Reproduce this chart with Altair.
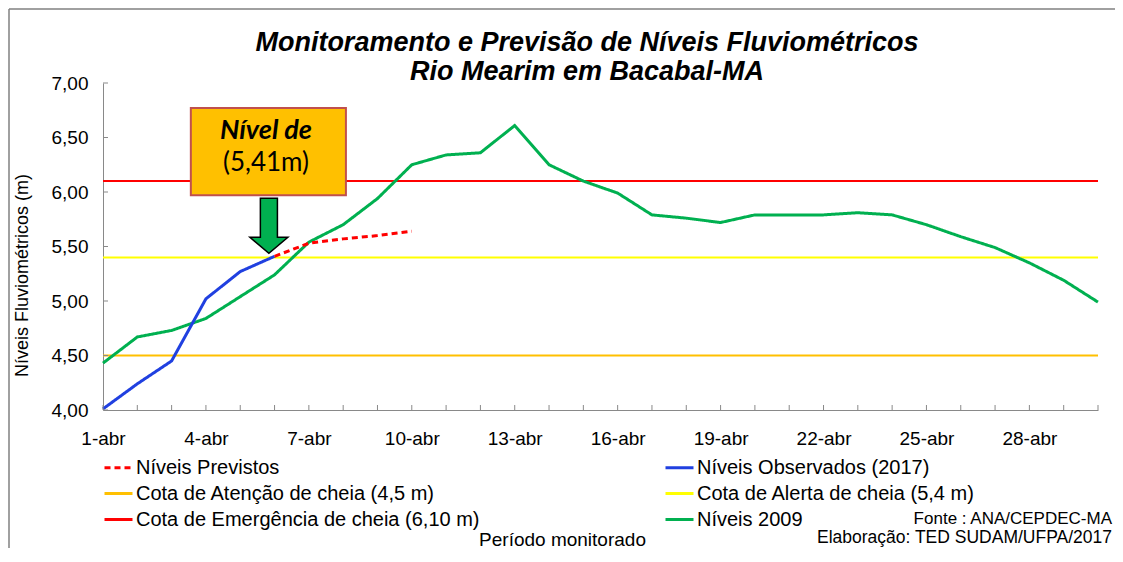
import altair as alt
import pandas as pd

# ---------------- data ----------------
days = list(range(1, 31))
niveis_2009 = [4.43, 4.67, 4.73, 4.84, 5.04, 5.24, 5.54, 5.70, 5.94, 6.25,
               6.34, 6.36, 6.61, 6.25, 6.10, 5.99, 5.79, 5.76, 5.72, 5.79,
               5.79, 5.79, 5.81, 5.79, 5.70, 5.59, 5.49, 5.35, 5.19, 4.99]
obs_days = [1, 2, 3, 4, 5, 6]
obs_2017 = [4.01, 4.24, 4.45, 5.02, 5.27, 5.41]
prev_days = [6, 7, 8, 9, 10]
previstos = [5.41, 5.53, 5.57, 5.60, 5.64]
cota_values = [4.5, 5.4, 6.10]

# legend order (column-major: first column, then second column)
series = ["Níveis Previstos", "Cota de Atenção de cheia (4,5 m)",
          "Cota de Emergência de cheia (6,10 m)", "Níveis Observados (2017)",
          "Cota de Alerta de cheia (5,4 m)", "Níveis 2009"]
colors = ["#FF0000", "#FFC000", "#FF0000", "#2040E0", "#FFFF00", "#00B050"]
dashes = [[6, 4], [1, 0], [1, 0], [1, 0], [1, 0], [1, 0]]

x_label_days = [1, 4, 7, 10, 13, 16, 19, 22, 25, 28]
y_ticks = [4.0, 4.5, 5.0, 5.5, 6.0, 6.5, 7.0]

title_lines = ["Monitoramento e Previsão de Níveis Fluviométricos",
               "Rio Mearim em Bacabal-MA"]
footers = ["Fonte : ANA/CEPDEC-MA", "Elaboração: TED SUDAM/UFPA/2017"]

# annotation (data coordinates)
box = {"x": 3.56, "x2": 8.08, "y": 5.97, "y2": 6.77}
box_texts = ["Nível de", "(5,41m)"]
box_text_y = [6.56, 6.27]
box_text_x = 5.75
arrow_pos = {"day": 5.835, "value": 5.69}

W, H = 995, 327
FONT = "Liberation Sans"

# ---------------- tables ----------------
df_2009 = pd.DataFrame({"day": days, "value": niveis_2009, "series": series[5]})
df_obs = pd.DataFrame({"day": obs_days, "value": obs_2017, "series": series[3]})
df_prev = pd.DataFrame({"day": prev_days, "value": previstos, "series": series[0]})
rows = []
for name, v in zip([series[1], series[4], series[2]], cota_values):
    rows.append({"day": days[0], "value": v, "series": name})
    rows.append({"day": days[-1], "value": v, "series": name})
df_cotas = pd.DataFrame(rows)

legend = alt.Legend(title=None, orient="none", legendX=0, legendY=369,
                    columns=2, columnPadding=179, rowPadding=-2,
                    symbolType="stroke", symbolSize=784, symbolStrokeWidth=3,
                    labelFont=FONT, labelFontSize=20, labelColor="black",
                    labelOffset=2, labelLimit=600, padding=0)

x_axis = alt.Axis(values=x_label_days, labelExpr="datum.value + '-abr'",
                  ticks=False, grid=False, domainColor="#898989",
                  labelFlush=False,
                  labelFont=FONT, labelFontSize=19, labelColor="black",
                  labelPadding=19, title="Período monitorado",
                  titleFont=FONT, titleFontSize=19, titleFontWeight="normal",
                  titleColor="black", titleX=459, titleY=135,
                  titleBaseline="alphabetic", titleAlign="center")
y_axis = alt.Axis(values=y_ticks,
                  labelExpr="replace(format(datum.value, '.2f'), '.', ',')",
                  ticks=False, grid=False, domainColor="#898989",
                  labelFlush=False,
                  labelFont=FONT, labelFontSize=19, labelColor="black",
                  labelPadding=15, title="Níveis Fluviométricos (m)",
                  titleFont=FONT, titleFontSize=18, titleFontWeight="normal",
                  titleColor="black", titleX=-81, titleY=192,
                  titleAlign="center", titleBaseline="middle", titleAngle=-90)

xs = alt.Scale(domain=[1, 30], nice=False, zero=False)
ys = alt.Scale(domain=[4, 7], nice=False, zero=False)
X = alt.X("day:Q", scale=xs, axis=x_axis)
Y = alt.Y("value:Q", scale=ys, axis=y_axis)
COLOR = alt.Color("series:N", scale=alt.Scale(domain=series, range=colors), legend=legend)
DASH = alt.StrokeDash("series:N", scale=alt.Scale(domain=series, range=dashes), legend=legend)

one = alt.Data(values=[{}])

frame_top = alt.Chart(one).mark_rule(color="#808080", strokeWidth=1.5).encode(
    x=alt.value(-94), x2=alt.value(1040), y=alt.value(-74))
frame_left = alt.Chart(one).mark_rule(color="#808080", strokeWidth=1.5).encode(
    x=alt.value(-94), y=alt.value(-74), y2=alt.value(480))

cotas = alt.Chart(df_cotas).mark_line(strokeWidth=2).encode(
    x=X, y=Y, color=COLOR, strokeDash=DASH, detail="series:N")
l2009 = alt.Chart(df_2009).mark_line(strokeWidth=3).encode(
    x=X, y=Y, color=COLOR, strokeDash=DASH)
lobs = alt.Chart(df_obs).mark_line(strokeWidth=3).encode(
    x=X, y=Y, color=COLOR, strokeDash=DASH)
lprev = alt.Chart(df_prev).mark_line(strokeWidth=3).encode(
    x=X, y=Y, color=COLOR, strokeDash=DASH)

box_chart = alt.Chart(pd.DataFrame([box])).mark_rect(
    fill="#FFC000", stroke="#C0504D", strokeWidth=2).encode(
    x=alt.X("x:Q", scale=xs), x2="x2:Q", y=alt.Y("y:Q", scale=ys), y2="y2:Q")

df_bt = pd.DataFrame({"t": box_texts, "y": box_text_y, "x": [box_text_x] * 2})
bt1 = alt.Chart(df_bt.iloc[[0]]).mark_text(
    font="Lato", fontSize=27, fontWeight="bold", fontStyle="italic",
    color="black", align="center", baseline="middle").encode(
    x=alt.X("x:Q", scale=xs), y=alt.Y("y:Q", scale=ys), text="t:N")
bt2 = alt.Chart(df_bt.iloc[[1]]).mark_text(
    font="Lato", fontSize=26, color="black", align="center",
    baseline="middle").encode(
    x=alt.X("x:Q", scale=xs), y=alt.Y("y:Q", scale=ys), text="t:N")

arrow_path = "M-0.31,-1 L0.31,-1 L0.31,0.42 L0.69,0.42 L0,1 L-0.69,0.42 L-0.31,0.42 Z"
arrow = alt.Chart(pd.DataFrame([arrow_pos])).mark_point(
    shape=arrow_path, size=3025, filled=True, fill="#00B050", stroke="black",
    strokeWidth=1.5, opacity=1).encode(
    x=alt.X("day:Q", scale=xs), y=alt.Y("value:Q", scale=ys))

xticks = alt.Chart(pd.DataFrame({"day": days})).mark_rule(
    color="#898989", strokeWidth=1).encode(
    x=alt.X("day:Q", scale=xs), y=alt.value(H), y2=alt.value(H - 5))
yticks = alt.Chart(pd.DataFrame({"value": y_ticks})).mark_rule(
    color="#898989", strokeWidth=1).encode(
    y=alt.Y("value:Q", scale=ys), x=alt.value(0), x2=alt.value(5))

title1 = alt.Chart(pd.DataFrame({"t": [title_lines[0]]})).mark_text(
    font=FONT, fontSize=27, fontWeight="bold", fontStyle="italic",
    color="black", align="center", baseline="middle").encode(
    text="t:N", x=alt.value(484), y=alt.value(-40))
title2 = alt.Chart(pd.DataFrame({"t": [title_lines[1]]})).mark_text(
    font=FONT, fontSize=27, fontWeight="bold", fontStyle="italic",
    color="black", align="center", baseline="middle").encode(
    text="t:N", x=alt.value(484), y=alt.value(-11))

foot1 = alt.Chart(pd.DataFrame({"t": [footers[0]]})).mark_text(
    font=FONT, fontSize=17, color="black", align="right",
    baseline="alphabetic").encode(text="t:N", x=alt.value(1009), y=alt.value(441))
foot2 = alt.Chart(pd.DataFrame({"t": [footers[1]]})).mark_text(
    font=FONT, fontSize=17.5, color="black", align="right",
    baseline="alphabetic").encode(text="t:N", x=alt.value(1009), y=alt.value(460))

chart = alt.layer(
    frame_top, frame_left, cotas, l2009, lobs, lprev, box_chart, bt1, bt2, arrow,
    xticks, yticks, title1, title2, foot1, foot2
).properties(
    width=W, height=H,
    padding={"left": 95, "top": 75, "right": 17, "bottom": 138},
    autosize=alt.AutoSizeParams(type="none"),
    background="white"
).configure_view(stroke=None)

chart.save("out.html", embed_options={"renderer": "svg", "actions": False})
